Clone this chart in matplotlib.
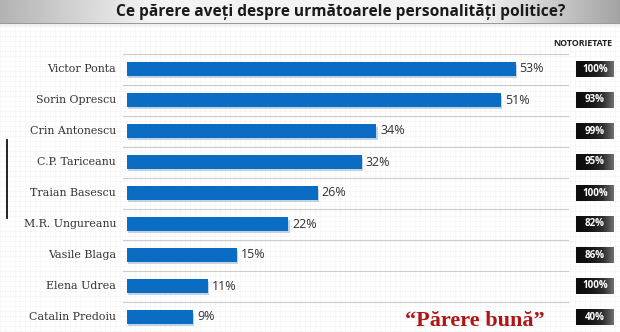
import numpy as np
import matplotlib
matplotlib.use("Agg")
import matplotlib.pyplot as plt
from matplotlib import patheffects as pe
from matplotlib.colors import LinearSegmentedColormap

# Survey data: favourable opinion and name recognition
names = ["Victor Ponta", "Sorin Oprescu", "Crin Antonescu", "C.P. Tariceanu",
         "Traian Basescu", "M.R. Ungureanu", "Vasile Blaga", "Elena Udrea",
         "Catalin Predoiu"]
favourable = [53, 51, 34, 32, 26, 22, 15, 11, 9]
notoriety = [100, 93, 99, 95, 100, 82, 86, 100, 40]

title = "Ce părere aveți despre următoarele personalități politice?"
side_header = "NOTORIETATE"
caption = "“Părere bună”"

W, H = 620, 332
fig = plt.figure(figsize=(W / 100, H / 100), dpi=100)
fig.patch.set_facecolor("white")

# Background canvas in pixel coordinates
bg = fig.add_axes([0, 0, 1, 1])
bg.set_xlim(0, W)
bg.set_ylim(H, 0)
bg.axis("off")

# faint graph-paper texture
for gx in np.arange(0, W, 5):
    bg.axvline(gx, color="#f5f5f5", lw=0.5, zorder=0)
for gy in np.arange(26, H, 5):
    bg.axhline(gy, color="#f5f5f5", lw=0.5, zorder=0)

# title banner: grey at both ends, near white in the middle
px = np.arange(W)
prof = np.interp(px, [0, 60, 150, 480, 560, 619], [0.70, 0.80, 0.95, 0.95, 0.78, 0.64])
banner = np.tile(prof, (20, 1))
bg.imshow(banner, cmap="gray", vmin=0, vmax=1, extent=[0, W, 23, 0],
          aspect="auto", zorder=1, interpolation="bilinear")
bg.add_patch(plt.Rectangle((0, 22.5), W, 1.5, color="#9a9a9a", lw=0, zorder=2))
shade = np.linspace(0.88, 1.0, 10)[:, None] * np.ones((10, 2))
bg.imshow(shade, cmap="gray", vmin=0, vmax=1, extent=[0, W, 28, 24],
          aspect="auto", zorder=1, alpha=0.6)
bg.text(341, 12.5, title, ha="center", va="center", fontsize=11.2,
        fontweight="bold", family="Open Sans", color="#1a1a1a", zorder=3)

bg.text(583, 44, side_header, ha="center", va="center", fontsize=6.4,
        fontweight="bold", family="Open Sans", color="#222222", zorder=3)

# small vertical marker on the left
bg.plot([7, 7], [140, 218], color="#111111", lw=1.3, zorder=3)

bg.text(475, 321, caption, ha="center", va="center", fontsize=16,
        fontweight="bold", family="Liberation Serif", color="#b01515", zorder=3)

# Main bar axes: 9 rows of 31 px starting at y=53.5, 0..60 % over 440 px
top_px, row_px = 53.5, 31.0
n = len(names)
ax = fig.add_axes([127 / W, (H - top_px - row_px * n) / H, 440 / W, row_px * n / H])
ax.set_xlim(0, 60)
ax.set_ylim(n - 0.5, -0.5)
ax.patch.set_alpha(0)
for s in ax.spines.values():
    s.set_visible(False)
ax.set_xticks([])
ax.set_yticks([])

y = np.arange(n)
bars = ax.barh(y, favourable, height=0.42, color="#0a6cc2", zorder=3)
for b in bars:
    b.set_path_effects([pe.SimplePatchShadow(offset=(1, -1.5), shadow_rgbFace="#9bb6d3", alpha=0.6),
                        pe.Normal()])

px_per_unit = 440 / 60
for yi, v in zip(y, favourable):
    ax.text(v + 4 / px_per_unit, yi, f"{v}%", ha="left", va="center",
            fontsize=9, family="Open Sans", color="#333333")
    ax.text(-11 / px_per_unit, yi, names[yi], ha="right", va="center",
            fontsize=7.9, family="DejaVu Serif", color="#333333",
            clip_on=False)

# row separators
for k in range(n):
    ax.plot([-4 / px_per_unit, 441 / px_per_unit], [k - 0.5, k - 0.5],
            color="#cccccc", lw=0.8, zorder=1, clip_on=False)

# name-recognition badges on the right
box_cmap = LinearSegmentedColormap.from_list("badge", ["#0d0d0d", "#2e2e2e", "#707070"])
x0, x1 = (576 - 127) / px_per_unit, (614 - 127) / px_per_unit
hh = 8 / row_px
grad = np.tile(np.linspace(0, 1, 50) ** 2, (10, 1))
for yi, v in zip(y, notoriety):
    ax.imshow(grad, cmap=box_cmap, extent=[x0, x1, yi + hh, yi - hh],
              aspect="auto", zorder=4, clip_on=False, interpolation="bilinear")
    ax.text((x0 + x1) / 2, yi, f"{v}%", ha="center", va="center", fontsize=7,
            fontweight="bold", family="Open Sans", color="white", zorder=5,
            clip_on=False)
ax.set_xlim(0, 60)
ax.set_ylim(n - 0.5, -0.5)

fig.savefig("out.png", dpi=100, facecolor="white")
